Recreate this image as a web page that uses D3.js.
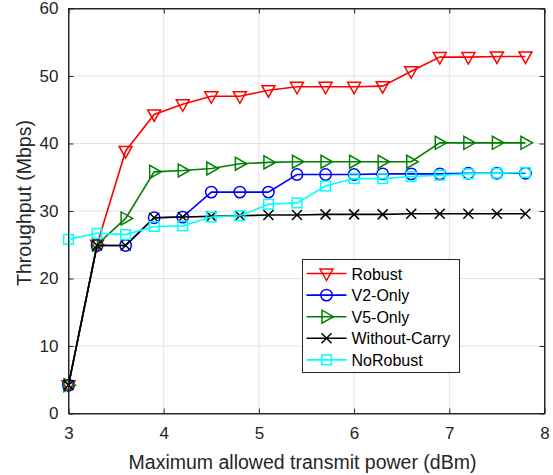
<!DOCTYPE html>
<html>
<head>
<meta charset="utf-8">
<script src="https://cdn.jsdelivr.net/npm/d3@7"></script>
<style>
  html, body { margin: 0; padding: 0; background: #fff; }
  svg { display: block; font-family: "Liberation Sans", Arial, Helvetica, sans-serif; }
</style>
</head>
<body>
<svg id="chart" width="553" height="475"></svg>
<script>
// Transmit power sweep (dBm)
const power = [3.0, 3.3, 3.6, 3.9, 4.2, 4.5, 4.8, 5.1, 5.4, 5.7, 6.0, 6.3, 6.6, 6.9, 7.2, 7.5, 7.8];

// Throughput per scheme (Mbps)
const robust      = [4.2, 25.0, 38.9, 44.3, 45.8, 47.0, 47.0, 47.9, 48.4, 48.4, 48.4, 48.5, 50.7, 52.8, 52.8, 52.9, 52.9];
const v2Only      = [4.2, 24.9, 24.9, 29.0, 29.1, 32.8, 32.8, 32.8, 35.4, 35.4, 35.4, 35.5, 35.5, 35.5, 35.6, 35.6, 35.6];
const v5Only      = [4.2, 25.0, 28.9, 35.8, 36.0, 36.3, 37.0, 37.2, 37.3, 37.3, 37.3, 37.3, 37.3, 40.1, 40.1, 40.1, 40.1];
const withoutCarry= [4.2, 24.9, 24.9, 29.0, 29.1, 29.2, 29.3, 29.4, 29.4, 29.5, 29.5, 29.5, 29.6, 29.6, 29.6, 29.6, 29.6];
const noRobust    = [25.8, 26.7, 26.5, 27.7, 27.8, 29.1, 29.3, 31.0, 31.2, 33.7, 34.8, 34.8, 35.1, 35.3, 35.5, 35.6, 35.7];

const seriesNames = ["Robust", "V2-Only", "V5-Only", "Without-Carry", "NoRobust"];
const xTicks = [3, 4, 5, 6, 7, 8];
const yTicks = [0, 10, 20, 30, 40, 50, 60];

const series = [
  { name: seriesNames[0], values: robust,       color: "#ff0000", marker: "tri-down" },
  { name: seriesNames[1], values: v2Only,       color: "#0000ff", marker: "circle" },
  { name: seriesNames[2], values: v5Only,       color: "#008000", marker: "tri-right" },
  { name: seriesNames[3], values: withoutCarry, color: "#000000", marker: "cross" },
  { name: seriesNames[4], values: noRobust,     color: "#00ffff", marker: "square" }
];

const svg = d3.select("#chart");
const plot = { left: 68.5, right: 544.5, top: 8.5, bottom: 413.5 };
const axisColor = "#262626";

const x = d3.scaleLinear().domain([3, 8]).range([plot.left, plot.right]);
const y = d3.scaleLinear().domain([0, 60]).range([plot.bottom, plot.top]);

// grid
const grid = svg.append("g");
grid.selectAll("line.gx").data(xTicks.slice(1, -1)).enter().append("line")
  .attr("x1", d => x(d)).attr("x2", d => x(d))
  .attr("y1", plot.top).attr("y2", plot.bottom)
  .attr("stroke", "#e3e3e3").attr("stroke-width", 1);
grid.selectAll("line.gy").data(yTicks.slice(1, -1)).enter().append("line")
  .attr("x1", plot.left).attr("x2", plot.right)
  .attr("y1", d => y(d)).attr("y2", d => y(d))
  .attr("stroke", "#e3e3e3").attr("stroke-width", 1);

// axes with inward ticks on all four sides
function styleAxis(g) {
  g.selectAll("path").attr("stroke", axisColor).attr("stroke-width", 1);
  g.selectAll(".tick line").attr("stroke", axisColor).attr("stroke-width", 1);
  g.selectAll("text").attr("fill", axisColor).attr("font-size", "17px")
    .attr("font-family", "'Liberation Sans', Arial, sans-serif");
}
const xAxis = svg.append("g").attr("transform", `translate(0,${plot.bottom})`)
  .call(d3.axisBottom(x).tickValues(xTicks).tickSize(-5).tickPadding(13).tickSizeOuter(0).tickFormat(d3.format("d")));
styleAxis(xAxis);
const xAxisTop = svg.append("g").attr("transform", `translate(0,${plot.top})`)
  .call(d3.axisTop(x).tickValues(xTicks).tickSize(-5).tickSizeOuter(0).tickFormat(""));
styleAxis(xAxisTop);
const yAxis = svg.append("g").attr("transform", `translate(${plot.left},0)`)
  .call(d3.axisLeft(y).tickValues(yTicks).tickSize(-5).tickPadding(10).tickSizeOuter(0).tickFormat(d3.format("d")));
styleAxis(yAxis);
const yAxisRight = svg.append("g").attr("transform", `translate(${plot.right},0)`)
  .call(d3.axisRight(y).tickValues(yTicks).tickSize(-5).tickSizeOuter(0).tickFormat(""));
styleAxis(yAxisRight);

// marker shapes
function drawMarker(g, type, color) {
  const common = s => s.attr("fill", "none").attr("stroke", color).attr("stroke-width", 1.5);
  if (type === "tri-down") {
    common(g.append("path").attr("d", "M-6.5,-4.5L6.5,-4.5L0,7Z"));
  } else if (type === "tri-right") {
    common(g.append("path").attr("d", "M-4.5,-6.5L-4.5,6.5L7,0Z"));
  } else if (type === "circle") {
    common(g.append("circle").attr("r", 5.7));
  } else if (type === "square") {
    common(g.append("rect").attr("x", -4.8).attr("y", -4.8).attr("width", 9.6).attr("height", 9.6));
  } else if (type === "cross") {
    common(g.append("path").attr("d", "M-5,-5L5,5M-5,5L5,-5"));
  }
}

const line = d3.line().x(d => x(d[0])).y(d => y(d[1]));

series.forEach(s => {
  const pts = power.map((p, i) => [p, s.values[i]]);
  const g = svg.append("g");
  g.append("path").datum(pts).attr("d", line)
    .attr("fill", "none").attr("stroke", s.color).attr("stroke-width", 1.6);
  g.selectAll("g.m").data(pts).enter().append("g")
    .attr("transform", d => `translate(${x(d[0])},${y(d[1])})`)
    .each(function() { drawMarker(d3.select(this), s.marker, s.color); });
});

// box outline
svg.append("rect")
  .attr("x", plot.left).attr("y", plot.top)
  .attr("width", plot.right - plot.left).attr("height", plot.bottom - plot.top)
  .attr("fill", "none").attr("stroke", axisColor).attr("stroke-width", 1);

// axis labels
svg.append("text")
  .attr("x", (plot.left + plot.right) / 2 - 4).attr("y", 469)
  .attr("text-anchor", "middle").attr("font-size", "19.5px").attr("fill", axisColor)
  .text("Maximum allowed transmit power (dBm)");
svg.append("text")
  .attr("transform", `translate(31,${(plot.top + plot.bottom) / 2 - 8}) rotate(-90)`)
  .attr("text-anchor", "middle").attr("font-size", "19.5px").attr("fill", axisColor)
  .text("Throughput (Mbps)");

// legend
const legend = svg.append("g");
legend.append("rect")
  .attr("x", 302.5).attr("y", 259.5).attr("width", 157).attr("height", 113)
  .attr("fill", "#fff").attr("stroke", axisColor).attr("stroke-width", 1);
series.forEach((s, i) => {
  const cy = 273.5 + i * 21.6;
  const row = legend.append("g");
  row.append("line").attr("x1", 306.5).attr("x2", 346.5).attr("y1", cy).attr("y2", cy)
    .attr("stroke", s.color).attr("stroke-width", 1.6);
  drawMarker(row.append("g").attr("transform", `translate(326.5,${cy})`), s.marker, s.color);
  row.append("text").attr("x", 351.5).attr("y", cy + 6)
    .attr("font-size", "16px").attr("fill", "#000").text(s.name);
});
</script>
</body>
</html>
